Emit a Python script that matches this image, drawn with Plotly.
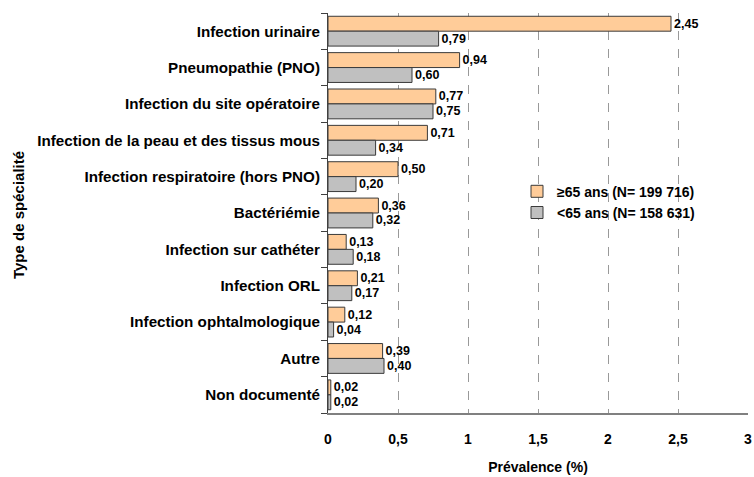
import plotly.graph_objects as go

categories = ["Infection urinaire", "Pneumopathie (PNO)", "Infection du site opératoire",
              "Infection de la peau et des tissus mous", "Infection respiratoire (hors PNO)",
              "Bactériémie", "Infection sur cathéter", "Infection ORL",
              "Infection ophtalmologique", "Autre", "Non documenté"]
old_vals = [2.45, 0.94, 0.77, 0.71, 0.50, 0.36, 0.13, 0.21, 0.12, 0.39, 0.02]
young_vals = [0.79, 0.60, 0.75, 0.34, 0.20, 0.32, 0.18, 0.17, 0.04, 0.40, 0.02]
old_name = "≥65 ans (N= 199 716)"
young_name = "<65 ans (N= 158 631)"
x_ticks = [0, 0.5, 1, 1.5, 2, 2.5, 3]
x_ticklabels = ["0", "0,5", "1", "1,5", "2", "2,5", "3"]
y_title = "Type de spécialité"

FONT = "Liberation Sans, Arial, sans-serif"

fig = go.Figure()
fig.add_trace(go.Bar(
    y=categories, x=old_vals, name="<b>%s</b>" % old_name, orientation="h",
    marker=dict(color="#FFCC99", line=dict(color="#3a3a3a", width=1)),
    texttemplate="<b>%{x:.2f}</b>", textposition="outside",
    textfont=dict(size=12.5, color="black", family=FONT), cliponaxis=False,
))
fig.add_trace(go.Bar(
    y=categories, x=young_vals, name="<b>%s</b>" % young_name, orientation="h",
    marker=dict(color="#C0C0C0", line=dict(color="#3a3a3a", width=1)),
    texttemplate="<b>%{x:.2f}</b>", textposition="outside",
    textfont=dict(size=12.5, color="black", family=FONT), cliponaxis=False,
))

fig.update_layout(
    width=754, height=477,
    margin=dict(l=328, r=6, t=13, b=64),
    paper_bgcolor="white", plot_bgcolor="white",
    separators=", ",
    barmode="group", bargap=0.18, bargroupgap=0,
    font=dict(family=FONT, size=13, color="black"),
    showlegend=True,
    legend=dict(x=0.45, y=0.527, xanchor="left", yanchor="middle",
                font=dict(size=14, family=FONT, color="black"),
                bgcolor="rgba(0,0,0,0)", traceorder="normal", itemwidth=30,
                tracegroupgap=2),
    xaxis=dict(range=[0, 3], tickvals=x_ticks, ticktext=["<b>%s</b>" % t for t in x_ticklabels],
               showgrid=True, gridcolor="#999999", griddash="dash", gridwidth=1,
               showline=True, linecolor="#808080", linewidth=2,
               ticks="", ticklabelstandoff=12, zeroline=False, automargin=False,
               tickfont=dict(size=14, family=FONT),
               title=dict(text="<b>Prévalence (%)</b>", font=dict(size=14, family=FONT), standoff=16)),
    yaxis=dict(autorange="reversed", tickvals=categories,
               ticktext=["<b>%s</b>" % c for c in categories],
               showline=True, linecolor="#404040", linewidth=1,
               ticks="outside", ticklen=6, tickcolor="#404040", tickson="boundaries",
               ticklabelstandoff=4,
               showgrid=False, tickfont=dict(size=15.2, family=FONT), automargin=False),
    annotations=[dict(text="<b>%s</b>" % y_title, xref="paper", yref="paper",
                      x=-0.738, y=0.495, xanchor="center", yanchor="middle",
                      textangle=-90, showarrow=False,
                      font=dict(size=15, family=FONT, color="black"))],
)

fig.write_html("out.html", config={"displayModeBar": False},
               post_script="document.body.style.margin='0';")
